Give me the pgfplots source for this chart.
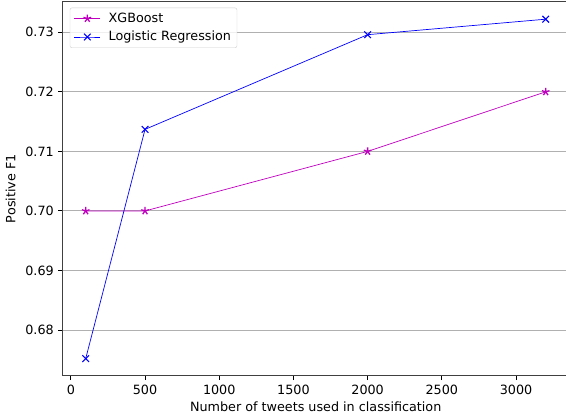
\documentclass[border=0pt]{standalone}
\usepackage{pgfplots}
\pgfplotsset{compat=1.18}
\usepackage{fontspec}
\setmainfont{DejaVu Sans}
\definecolor{mpm}{RGB}{191,0,191}
\definecolor{mpb}{RGB}{0,0,255}
\begin{document}
\fontsize{12.8}{15}\selectfont
\begin{tikzpicture}
\begin{axis}[
  name=ax,
  at={(0,0)}, anchor=south west,
  scale only axis,
  width=506bp, height=374bp,
  xmin=-55, xmax=3355,
  ymin=0.67233, ymax=0.73514,
  xtick={0,500,1000,1500,2000,2500,3000},
  ytick={0.68,0.69,0.70,0.71,0.72,0.73},
  /pgf/number format/assume math mode=true,
  xticklabel style={/pgf/number format/.cd, set thousands separator={}, fixed},
  yticklabel style={/pgf/number format/.cd, fixed, fixed zerofill, precision=2},
  scaled ticks=false,
  tick pos=left,
  tick align=outside,
  major tick length=4.5bp,
  tick style={line width=0.9pt, black},
  ymajorgrids,
  grid style={color={rgb,255:red,176;green,176;blue,176}, line width=0.9pt},
  axis line style={line width=1.1pt, black!75},
  xlabel={Number of tweets used in classification},
  ylabel={Positive F1},
  xlabel style={yshift=1bp},
  ylabel style={yshift=1bp},
  legend style={draw={rgb,255:red,204;green,204;blue,204}, rounded corners=2pt, fill=white, fill opacity=0.8, text opacity=1, draw opacity=1, font=\fontsize{12.8}{15}\selectfont, at={(0.014,0.984)}, anchor=north west, row sep=3pt, inner xsep=4pt, inner ysep=3pt, /tikz/every odd column/.append style={column sep=6bp}},
  legend cell align=left,
  legend image code/.code={\draw[mark repeat=2,mark phase=2,#1] plot coordinates {(0bp,0bp) (13bp,0bp) (26bp,0bp)};},
]
\addplot[mpm, line width=0.7pt, mark=star, mark size=4pt, mark options={fill=mpm, line width=1.3pt}] coordinates {
  (100,0.700) (500,0.700) (2000,0.710) (3200,0.720)
};
\addlegendentry{XGBoost}
\addplot[mpb, line width=0.7pt, mark=x, mark size=4.7pt, mark options={line width=1.1pt}] coordinates {
  (100,0.6752) (500,0.7137) (2000,0.7296) (3200,0.7322)
};
\addlegendentry{Logistic Regression}
\end{axis}
\pgfresetboundingbox
\path (ax.south west) ++(-62.7bp,-44.3bp) rectangle ++(566bp,420bp);
\end{tikzpicture}
\end{document}
